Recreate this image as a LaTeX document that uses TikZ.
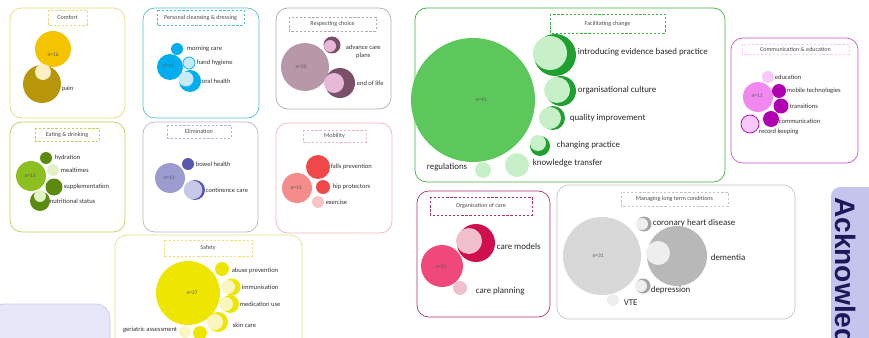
\documentclass[tikz,border=0pt]{standalone}
\usepackage{fontspec}
\setmainfont{Carlito}
\setsansfont{Liberation Sans}

\definecolor{comfortB}{HTML}{E8DA78}
\definecolor{comfortY}{HTML}{F5C400}
\definecolor{comfortD}{HTML}{B8960A}
\definecolor{comfortL}{HTML}{FAF0C4}
\definecolor{cleanB}{HTML}{00AEEF}
\definecolor{cleanF}{HTML}{58BCD4}
\definecolor{cleanL}{HTML}{C8EAF8}
\definecolor{choiceB}{HTML}{B4A8AE}
\definecolor{choiceM}{HTML}{B898A8}
\definecolor{choiceD}{HTML}{7A5068}
\definecolor{choiceL}{HTML}{E8B8D8}
\definecolor{eatB}{HTML}{B4D45A}
\definecolor{eatG}{HTML}{8CC020}
\definecolor{eatD}{HTML}{5A8A10}
\definecolor{eatL}{HTML}{E4F0C8}
\definecolor{elimB}{HTML}{B4B4D4}
\definecolor{elimM}{HTML}{9C9CD0}
\definecolor{elimD}{HTML}{5858B0}
\definecolor{elimL}{HTML}{C8C8E8}
\definecolor{mobB}{HTML}{F0B4BC}
\definecolor{mobP}{HTML}{F48C8C}
\definecolor{mobR}{HTML}{F04848}
\definecolor{mobL}{HTML}{F8C4C4}
\definecolor{safeB}{HTML}{E8E27C}
\definecolor{safeY}{HTML}{EEE600}
\definecolor{safeL}{HTML}{FAF6C0}
\definecolor{facB}{HTML}{40B040}
\definecolor{facG}{HTML}{5CC85C}
\definecolor{facD}{HTML}{20A030}
\definecolor{facL}{HTML}{C8F0C8}
\definecolor{comB}{HTML}{D050D0}
\definecolor{comM}{HTML}{F088F0}
\definecolor{comD}{HTML}{B000B0}
\definecolor{comL}{HTML}{F8C8F8}
\definecolor{orgB}{HTML}{B03070}
\definecolor{orgP}{HTML}{F0487A}
\definecolor{orgD}{HTML}{D0104C}
\definecolor{orgL}{HTML}{F0C0CC}
\definecolor{ltcB}{HTML}{C4C4C4}
\definecolor{ltcL}{HTML}{D8D8D8}
\definecolor{ltcM}{HTML}{B8B8B8}
\definecolor{ltcD}{HTML}{A4A4A4}
\definecolor{ltcW}{HTML}{EEEEEE}
\definecolor{ackL}{HTML}{E6E6F8}
\definecolor{ackB}{HTML}{C8C8EE}
\definecolor{ackT}{HTML}{C4C4EC}
\definecolor{ackText}{HTML}{1A1A5A}

\tikzset{
  panel/.style={draw=#1, line width=0.6pt, rounded corners=10pt},
  heading/.style={draw=#1, dash pattern=on 2pt off 1.5pt, line width=0.6pt},
  headtext/.style={font=\fontsize{5.2}{6}\selectfont, text=black!70},
  lbl/.style={anchor=west, inner sep=0.5pt, font=\fontsize{5.6}{6.5}\selectfont, text=black!80},
  biglbl/.style={anchor=west, inner sep=0.5pt, font=\fontsize{7.6}{8.5}\selectfont, text=black!85},
  count/.style={font=\fontsize{4.6}{5}\selectfont, text=black!65},
}

% dashed title box of a panel
\newcommand{\paneltitle}[7]{%
  \draw[heading=#2] (#3,#4) rectangle (#5,#6);
  \node[headtext] (#1) at ({(#3+#5)/2},{(#4+#6)/2}) {#7};}

\begin{document}
\begin{tikzpicture}[x=0.03cm,y=-0.03cm]
\useasboundingbox (0,0) rectangle (869,338);
\clip (0,0) rectangle (869,338);

% Comfort
\begin{scope}
\draw[panel=comfortB] (10,8) rectangle (125,118);
\paneltitle{comfort}{comfortB}{48}{10}{87}{25}{Comfort}
\fill[comfortY] (53,49) circle (18);
\node[count] (comfortn) at (53,55) {n=16};
\fill[comfortD] (42,84) circle (19);
\fill[comfortL] (43,72) circle (8);
\node[lbl] (pain) at (61,89) {pain};
\end{scope}

% Personal cleansing & dressing
\begin{scope}
\draw[panel=cleanF] (143,8) rectangle (259,118);
\paneltitle{cleansing}{cleanF}{157}{10}{244}{25}{Personal cleansing \& dressing}
\fill[cleanB] (170,67) circle (13);
\node[count] (cleansingn) at (168,66) {n=11};
\fill[cleanB] (177,49) circle (6);
\node[lbl] (morning) at (186,49) {morning care};
\filldraw[fill=cleanL, draw=cleanB, line width=0.6pt] (189,63) circle (6);
\node[lbl] (hygiene) at (196,63) {hand hygiene};
\fill[cleanB] (190,81) circle (11);
\fill[cleanL] (186,79) circle (7.5);
\node[lbl] (oral) at (201,81) {oral health};
\end{scope}

% Respecting choice
\begin{scope}
\draw[panel=choiceB] (276,8) rectangle (391,109);
\paneltitle{choice}{choiceB}{289}{17}{376}{31}{Respecting choice}
\fill[choiceM] (305,67) circle (24);
\node[count] (choicen) at (301,67) {n=20};
\fill[choiceD] (332,45) circle (8.5);
\fill[choiceL] (330,46) circle (6);
\node[lbl, align=center] (advance) at (345,52) {advance care\\plans};
\fill[choiceD] (340,83) circle (15);
\fill[choiceL] (334,83) circle (10);
\node[lbl] (endlife) at (356,83) {end of life};
\end{scope}

% Eating & drinking
\begin{scope}
\draw[panel=eatB] (10,122) rectangle (125,232);
\paneltitle{eating}{eatB}{35}{128}{99}{141}{Eating \& drinking}
\fill[eatG] (31,176) circle (15);
\node[count] (eatingn) at (30,176) {n=13};
\fill[eatD] (46,158) circle (6);
\node[lbl] (hydration) at (54,158) {hydration};
\fill[eatL] (53,170) circle (6);
\node[lbl] (mealtimes) at (60,170) {mealtimes};
\fill[eatD] (54,187) circle (8.5);
\node[lbl] (supplement) at (63,187) {supplementation};
\fill[eatD] (40,201) circle (10);
\fill[eatL] (40,196) circle (6);
\node[lbl] (nutrition) at (49,201) {nutritional status};
\end{scope}

% Elimination
\begin{scope}
\draw[panel=elimB] (143,122) rectangle (258,232);
\paneltitle{elimination}{elimB}{167}{125}{231}{138}{Elimination}
\fill[elimM] (170,178) circle (15);
\node[count] (eliminationn) at (169,178) {n=13};
\fill[elimD] (188,164) circle (6);
\node[lbl] (bowel) at (195,164) {bowel health};
\fill[elimD] (195,190) circle (10);
\fill[elimL] (193,190) circle (9.3);
\node[lbl] (continence) at (205,190) {continence care};
\end{scope}

% Mobility
\begin{scope}
\draw[panel=mobB] (276,123) rectangle (392,233);
\paneltitle{mobility}{mobB}{303}{130}{366}{142}{Mobility}
\fill[mobP] (297,188) circle (15);
\node[count] (mobilityn) at (296,188) {n=13};
\fill[mobR] (318,167) circle (12);
\node[lbl] (falls) at (330,167) {falls prevention};
\fill[mobR] (323,187) circle (7);
\node[lbl] (hip) at (332,187) {hip protectors};
\fill[mobL] (318,202) circle (6);
\node[lbl] (exercise) at (325,202) {exercise};
\end{scope}

% Safety
\begin{scope}
\draw[panel=safeB] (115,235) rectangle (302,370);
\paneltitle{safety}{safeB}{164}{240}{252}{256}{Safety}
\fill[safeY] (188,293) circle (32);
\node[count] (safetyn) at (192,293) {n=27};
\fill[safeY] (222,269) circle (7);
\node[lbl] (abuse) at (231,271) {abuse prevention};
\fill[safeY] (232,287) circle (8.5);
\fill[safeL] (228,287) circle (7);
\node[lbl] (immunisation) at (241,287) {immunisation};
\fill[safeY] (230,304) circle (9);
\fill[safeL] (226,304) circle (7);
\node[lbl] (medication) at (239,304) {medication use};
\fill[safeY] (218,322) circle (10);
\fill[safeL] (215,322) circle (8);
\node[lbl] (skin) at (232,325) {skin care};
\fill[safeL] (185,332) circle (6);
\node[lbl, anchor=east] (geriatric) at (178,330) {geriatric assessment};
\fill[safeY] (200,333) circle (7);
\end{scope}

% lower left box
\draw[draw=ackB, fill=ackL, line width=0.6pt, rounded corners=12pt] (-10,304) rectangle (110,370);

% Facilitating change
\begin{scope}
\draw[panel=facB] (415,8) rectangle (725,182);
\paneltitle{facilitating}{facB}{550}{14}{665}{33}{Facilitating change}
\fill[facG] (473,100) circle (62);
\node[count] (facilitatingn) at (481,100) {n=41};
\fill[facD] (555,55) circle (21);
\fill[facL] (550,53) circle (17);
\node[biglbl] (evidence) at (577,52) {introducing evidence based practice};
\fill[facD] (561,91) circle (15);
\fill[facL] (557,90) circle (13);
\node[biglbl] (culture) at (577,90) {organisational culture};
\fill[facD] (553,118) circle (12);
\fill[facL] (550,118) circle (11);
\node[biglbl] (quality) at (569,118) {quality improvement};
\fill[facD] (540,146) circle (10);
\fill[facL] (538,143) circle (8);
\node[biglbl] (changing) at (556,145) {changing practice};
\fill[facL] (517,165) circle (12);
\node[biglbl] (knowledge) at (532,163) {knowledge transfer};
\fill[facL] (483,170) circle (8);
\node[biglbl, anchor=east] (regulations) at (468,167) {regulations};
\end{scope}

% Communication & education
\begin{scope}
\draw[panel=comB] (731,38) rectangle (858,163);
\paneltitle{communication}{comL}{742}{44}{849}{54}{Communication \& education}
\fill[comM] (758,97) circle (15);
\node[count] (communicationn) at (757,96) {n=11};
\fill[comL] (768,77) circle (6);
\node[lbl] (education) at (774,77) {education};
\fill[comD] (779,91) circle (7);
\node[lbl] (mobiletech) at (786,91) {mobile technologies};
\fill[comD] (781,106) circle (7.5);
\node[lbl] (transitions) at (789,106) {transitions};
\fill[comD] (771,119) circle (8);
\node[lbl] (communicating) at (778,121) {communication};
\filldraw[fill=comL, draw=comD, line width=0.6pt] (750,124) circle (9);
\node[lbl] (record) at (758,132) {record keeping};
\end{scope}

% Organisation of care
\begin{scope}
\draw[panel=orgB] (417,191) rectangle (550,317);
\paneltitle{organisation}{orgB}{430}{197}{532}{215}{Organisation of care}
\fill[orgP] (442,266) circle (21);
\node[count] (organisationn) at (441,267) {n=15};
\fill[orgD] (476,243) circle (19);
\fill[orgL] (469,241) circle (13);
\node[biglbl] (caremodels) at (496,246) {care models};
\fill[orgL] (460,288) circle (7);
\node[biglbl] (careplanning) at (475,291) {care planning};
\end{scope}

% Managing long term conditions
\begin{scope}
\draw[panel=ltcB] (557,185) rectangle (795,319);
\paneltitle{managing}{ltcB}{621}{192}{728}{206}{Managing long term conditions}
\fill[ltcL] (602,256) circle (39);
\node[count] (managingn) at (598,256) {n=31};
\fill[ltcD] (644,224) circle (7.5);
\fill[ltcW] (642,224) circle (6);
\node[biglbl] (coronary) at (652,223) {coronary heart disease};
\fill[ltcM] (677,256) circle (30);
\fill[ltcW] (658,253) circle (12);
\node[biglbl] (dementia) at (710,257) {dementia};
\fill[ltcD] (643,286) circle (7.5);
\fill[ltcW] (641,286) circle (6);
\node[biglbl] (depression) at (650,290) {depression};
\fill[ltcW] (613,300) circle (6);
\node[biglbl] (vte) at (623,303) {VTE};
\end{scope}

% Acknowledgements tab
\fill[ackT, rounded corners=8pt] (831,187) rectangle (900,370);
\node[rotate=-90, anchor=base west, inner sep=0pt, text=ackText,
  font=\sffamily\bfseries\fontsize{24}{28}\selectfont] (ack) at (835,197) {Acknowledgements};

\end{tikzpicture}
\end{document}
